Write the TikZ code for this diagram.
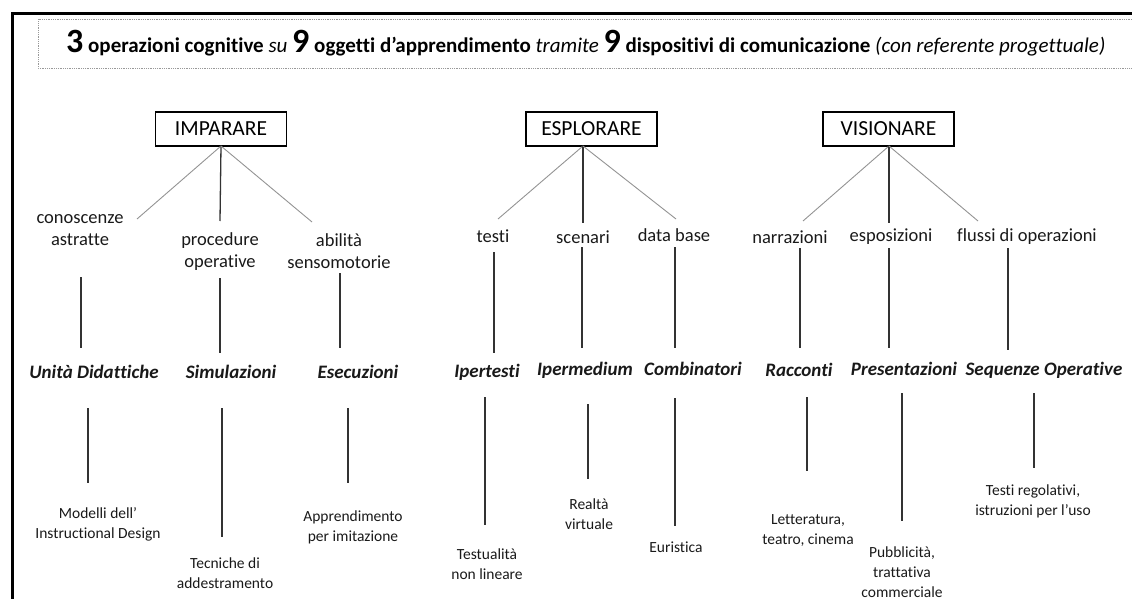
\documentclass[tikz,border=0pt]{standalone}
\usepackage{fontspec}
\setmainfont{Carlito}[Ligatures={NoCommon}]
\begin{document}
\begin{tikzpicture}[x=1pt,y=-1pt,
  opbox/.style={draw=black, line width=1.2pt, minimum width=131pt, minimum height=34pt, inner sep=0pt, font=\fontsize{21.5}{25}\selectfont},
  lvtwo/.style={font=\fontsize{18.5}{22}\selectfont, align=center, inner sep=0pt, text=black!90},
  lvthree/.style={font=\fontsize{19}{23}\selectfont\bfseries\itshape, align=center, inner sep=0pt, text=black!90, anchor=base},
  lvfour/.style={font=\fontsize{15.5}{20}\selectfont, align=center, inner sep=0pt, text=black!90},
  slant/.style={draw=gray!85, line width=0.9pt},
  vline/.style={draw=black!80, line width=1.3pt}]
\useasboundingbox (0,0) rectangle (1132,599);
% frame
\draw[line width=3pt] (12,599) -- (12,13.5) -- (1132,13.5);
\draw[gray!80, densely dotted, line width=0.8pt] (1132,19) -- (38,19) -- (38,68) -- (1132,68);
% title
\node[anchor=base west, inner sep=0pt, font=\fontsize{21}{24}\selectfont] (title) at (66,53)
 {{\fontsize{34}{34}\selectfont\bfseries 3} \textbf{operazioni cognitive} \textit{su} {\fontsize{34}{34}\selectfont\bfseries 9} \textbf{oggetti d’apprendimento} \textit{tramite} {\fontsize{34}{34}\selectfont\bfseries 9} \textbf{dispositivi di comunicazione} \textit{(con referente progettuale)}};
% boxes
\node[opbox] (imp) at (221,129) {IMPARARE};
\node[opbox] (esp) at (591.5,129) {ESPLORARE};
\node[opbox] (vis) at (888.5,129) {VISIONARE};
\coordinate (impb) at (221,146);
\coordinate (espb) at (583,146);
\coordinate (visb) at (889,146);
% level 2
\node[lvtwo] (cono) at (80,230) {conoscenze\\astratte};
\node[lvtwo] (proc) at (220,252) {procedure\\operative};
\node[lvtwo] (abil) at (339,251) {abilità\\sensomotorie};
\node[lvtwo] (test) at (493,236) {testi};
\node[lvtwo] (scen) at (583,237) {scenari};
\node[lvtwo] (datb) at (674,235) {data base};
\node[lvtwo] (narr) at (790,237) {narrazioni};
\node[lvtwo] (espo) at (891,237) {esposizioni};
\node[lvtwo] (flus) at (1027,237) {flussi di operazioni};
% slanted connectors
\coordinate (i1) at (137,219); \coordinate (i2) at (220,221); \coordinate (i3) at (312,222);
\coordinate (e1) at (498,219); \coordinate (e2) at (583,223); \coordinate (e3) at (676,219);
\coordinate (v1) at (803,221); \coordinate (v2) at (889,223); \coordinate (v3) at (978,221);
\draw[slant] (impb) -- (i1); \draw[vline] (impb) -- (i2); \draw[slant] (impb) -- (i3);
\draw[slant] (espb) -- (e1); \draw[vline] (espb) -- (e2); \draw[slant] (espb) -- (e3);
\draw[slant] (visb) -- (v1); \draw[vline] (visb) -- (v2); \draw[slant] (visb) -- (v3);
% level 3
\node[lvthree] (unit) at (94,378) {Unità Didattiche};
\node[lvthree] (simu) at (231,378) {Simulazioni};
\node[lvthree] (esec) at (358,378) {Esecuzioni};
\node[lvthree] (iper) at (487,377) {Ipertesti};
\node[lvthree] (ipme) at (585,375) {Ipermedium};
\node[lvthree] (comb) at (693,375) {Combinatori};
\node[lvthree] (racc) at (799,376) {Racconti};
\node[lvthree] (pres) at (904,375) {Presentazioni};
\node[lvthree] (sequ) at (1044,375) {Sequenze Operative};
% verticals level 2 -> 3
\foreach \n/\x/\a/\b in {a/81/277/348, b/220/278/353, c/340/273/348, d/494/252/353, e/582/247/348, f/675/247/348, g/800/248/348, h/889/248/348, k/1008/248/350} {
  \coordinate (ta\n) at (\x,\a); \coordinate (tb\n) at (\x,\b);
  \draw[vline] (ta\n) -- (tb\n);
}
% verticals level 3 -> 4
\foreach \n/\x/\a/\b in {a/88/408/483, b/222/408/537, c/348/408/483, d/485/397/525, e/588/404/479, f/675/398/526, g/807/397/471, h/902/393/521, k/1034/393/468} {
  \coordinate (fa\n) at (\x,\a); \coordinate (fb\n) at (\x,\b);
  \draw[vline] (fa\n) -- (fb\n);
}
% level 4
\node[lvfour] (mode) at (98,524) {Modelli dell’\\Instructional Design};
\node[lvfour] (tecn) at (225,573) {Tecniche di\\addestramento};
\node[lvfour] (appr) at (353,527) {Apprendimento\\per imitazione};
\node[lvfour] (tstl) at (487,564) {Testualità\\non lineare};
\node[lvfour] (real) at (589,514) {Realtà\\virtuale};
\node[lvfour] (euri) at (676,547) {Euristica};
\node[lvfour] (lett) at (808,531) {Letteratura,\\teatro, cinema};
\node[lvfour] (pubb) at (902,572) {Pubblicità,\\trattativa\\commerciale};
\node[lvfour] (tsrg) at (1033,501) {Testi regolativi,\\istruzioni per l’uso};
\end{tikzpicture}
\end{document}
